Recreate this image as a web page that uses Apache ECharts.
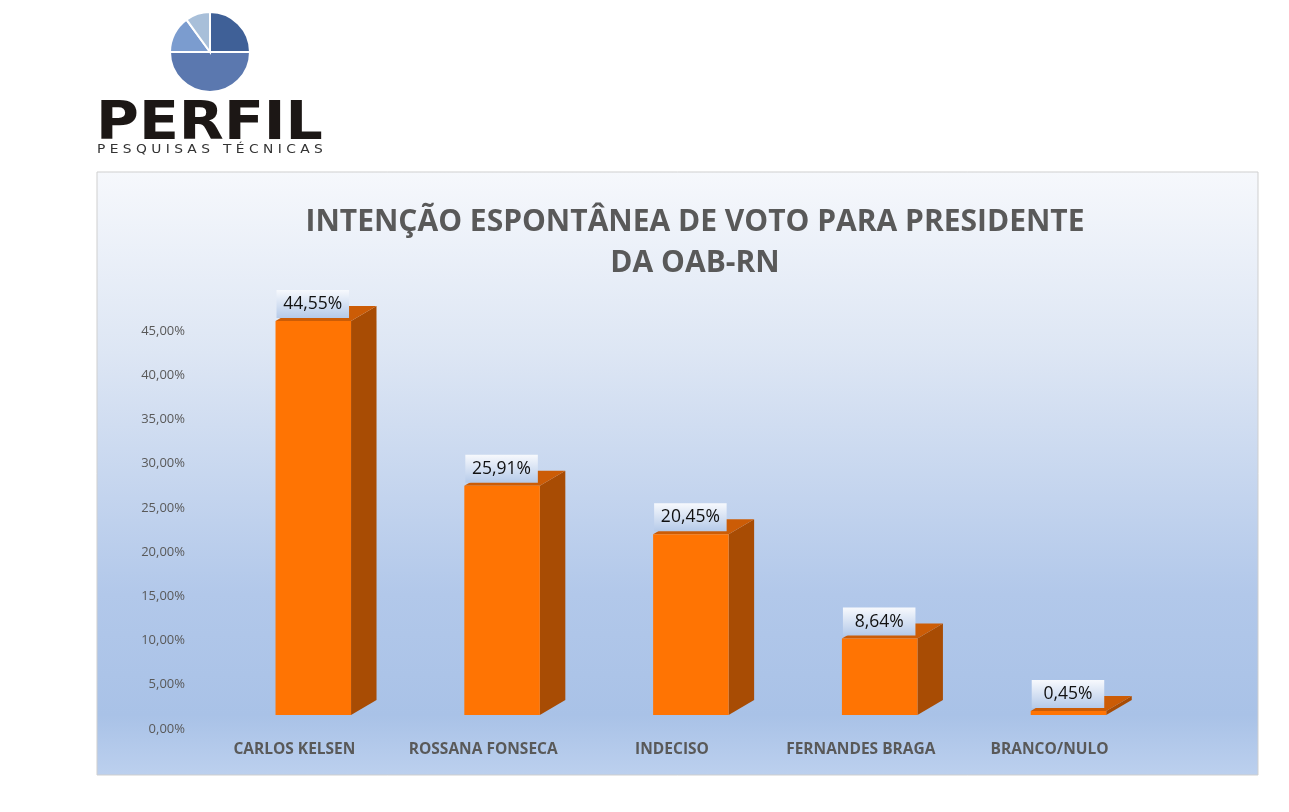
<!DOCTYPE html>
<html>
<head>
    <meta charset="utf-8">
    <title>Intenção espontânea de voto</title>
    <script src="https://cdn.jsdelivr.net/npm/echarts@6/dist/echarts.min.js"></script>
    <style>
        html, body { margin: 0; padding: 0; background: #fff; }
    </style>
</head>
<body>
    <div id="chart" style="width: 1289px;height:812px;"></div>
    <script type="text/javascript">
        // dados
        var candidatos = ['CARLOS KELSEN', 'ROSSANA FONSECA', 'INDECISO', 'FERNANDES BRAGA', 'BRANCO/NULO'];
        var votos = [44.55, 25.91, 20.45, 8.64, 0.45];
        var yTicks = { min: 0, max: 45, step: 5 };

        function pct(v) {
            return v.toFixed(2).replace('.', ',') + '%';
        }

        var chart = echarts.init(document.getElementById('chart'));

        // barra "3D" como no Excel: frente, lado e topo
        function renderBar(params, api) {
            var idx = api.value(0);
            var val = api.value(1);
            var band = api.size([1, 0])[0];
            var base = api.coord([idx, 0]);
            var topP = api.coord([idx, val]);
            var w = band * 0.40;
            var dx = band * 0.135, dy = 15, drop = 14;
            var x0 = base[0] + band * 0.10 - w / 2;
            var x1 = x0 + w;
            var yb = base[1] - drop;
            var yt = topP[1] - drop;
            var labW = w - 3;
            return {
                type: 'group',
                children: [
                    { type: 'polygon', shape: { points: [[x1, yt], [x1 + dx, yt - dy], [x1 + dx, yb - dy], [x1, yb]] },
                      style: { fill: '#a84c04' } },
                    { type: 'polygon', shape: { points: [[x0, yt], [x0 + dx, yt - dy], [x1 + dx, yt - dy], [x1, yt]] },
                      style: { fill: '#cc5c06' } },
                    { type: 'rect', shape: { x: x0, y: yt, width: w, height: yb - yt },
                      style: { fill: '#ff7403' } },
                    { type: 'rect', shape: { x: x0 + 1, y: yt - 31, width: labW, height: 28 },
                      style: { fill: new echarts.graphic.LinearGradient(0, 0, 0, 1, [
                          { offset: 0, color: '#f7f9fd' }, { offset: 1, color: '#b5cae9' }]) } },
                    { type: 'text', style: { text: pct(val), x: x0 + 1 + labW / 2, y: yt - 17,
                      align: 'center', verticalAlign: 'middle',
                      font: '17.5px "Open Sans"', fill: '#111' } }
                ]
            };
        }

        var option = {
            backgroundColor: '#ffffff',
            animation: false,
            title: {
                text: 'INTENÇÃO ESPONTÂNEA DE VOTO PARA PRESIDENTE\nDA OAB-RN',
                left: 690,
                top: 197,
                textAlign: 'center',
                textStyle: {
                    fontFamily: 'Open Sans', fontWeight: 'bold', fontSize: 30,
                    color: '#595959', lineHeight: 41
                }
            },
            graphic: [
                // fundo do gráfico
                { type: 'rect', z: -10, shape: { x: 97, y: 172, width: 1161, height: 603 },
                  style: { stroke: '#cfcfcf', lineWidth: 1,
                    fill: new echarts.graphic.LinearGradient(0, 0, 0, 1, [
                        { offset: 0, color: '#f6f8fc' },
                        { offset: 0.3, color: '#dde6f4' },
                        { offset: 0.7, color: '#b2c8ea' },
                        { offset: 0.9, color: '#a9c2e7' },
                        { offset: 1, color: '#bcd0ee' }]) } },
                // logo
                { type: 'sector', z: 5, shape: { cx: 210, cy: 52, r: 40, startAngle: 0, endAngle: Math.PI },
                  style: { fill: '#5b78af', stroke: '#fff', lineWidth: 2 } },
                { type: 'sector', z: 5, shape: { cx: 210, cy: 52, r: 40, startAngle: -Math.PI / 2, endAngle: 0 },
                  style: { fill: '#3f6097', stroke: '#fff', lineWidth: 2 } },
                { type: 'sector', z: 5, shape: { cx: 210, cy: 52, r: 40, startAngle: -Math.PI, endAngle: -2.2 },
                  style: { fill: '#7b9ccf', stroke: '#fff', lineWidth: 2 } },
                { type: 'sector', z: 5, shape: { cx: 210, cy: 52, r: 40, startAngle: -2.2, endAngle: -Math.PI / 2 },
                  style: { fill: '#a8bfd9', stroke: '#fff', lineWidth: 2 } },
                { type: 'text', z: 5, x: 96, y: 98, scaleX: 1.17, scaleY: 1.08,
                  style: { text: 'PERFIL', font: '900 50px "DejaVu Sans"', fill: '#1c1715',
                    verticalAlign: 'top' } },
                { type: 'text', z: 5, x: 97, y: 144, scaleX: 1.15,
                  style: { text: 'P E S Q U I S A S   T É C N I C A S', font: '12px "DejaVu Sans"',
                    fill: '#333', verticalAlign: 'top' } }
            ],
            grid: { left: 200, right: 145, top: 331, bottom: 83 },
            xAxis: {
                type: 'category',
                data: candidatos,
                axisLine: { show: false },
                axisTick: { show: false },
                axisLabel: {
                    interval: 0, hideOverlap: false,
                    margin: 13, color: '#595959', fontSize: 15.5, fontWeight: 'bold',
                    fontFamily: 'Open Sans'
                }
            },
            yAxis: {
                type: 'value',
                min: yTicks.min, max: yTicks.max, interval: yTicks.step,
                splitLine: { show: false },
                axisLine: { show: false },
                axisTick: { show: false },
                axisLabel: {
                    margin: 15, color: '#595959', fontSize: 13, fontFamily: 'Open Sans',
                    formatter: function (v) { return pct(v); }
                }
            },
            series: [{
                type: 'custom',
                renderItem: renderBar,
                clip: false,
                encode: { x: 0, y: 1 },
                data: votos.map(function (v, i) { return [i, v]; })
            }]
        };

        chart.setOption(option);
    </script>
</body>
</html>
